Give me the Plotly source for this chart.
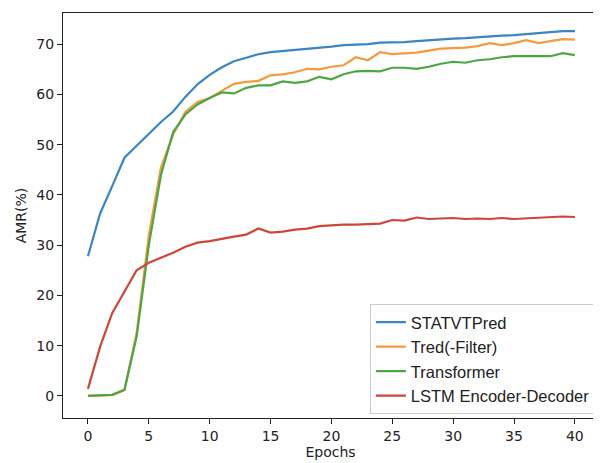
import plotly.graph_objects as go

epochs = list(range(41))

statvtpred = [27.8, 36.3, 41.8, 47.4, 49.8, 52.2, 54.5, 56.6, 59.5, 62.0,
              63.9, 65.4, 66.6, 67.3, 68.0, 68.4, 68.6, 68.9, 69.1, 69.3,
              69.5, 69.8, 69.9, 70.0, 70.3, 70.3, 70.4, 70.6, 70.8, 71.0,
              71.1, 71.2, 71.4, 71.6, 71.7, 71.8, 72.0, 72.2, 72.4, 72.6, 72.6]

tred_filter = [0.0, 0.05, 0.2, 1.2, 12.5, 32.0, 45.5, 52.0, 56.5, 58.5,
               59.3, 60.7, 62.1, 62.5, 62.7, 63.8, 64.0, 64.4, 65.1, 65.0,
               65.5, 65.8, 67.4, 66.8, 68.4, 68.0, 68.1, 68.3, 68.7, 69.1,
               69.2, 69.3, 69.6, 70.2, 69.8, 70.2, 70.8, 70.2, 70.6, 71.0, 70.9]

transformer = [0.0, 0.05, 0.2, 1.2, 11.8, 30.0, 44.0, 52.5, 56.0, 58.0,
               59.3, 60.4, 60.2, 61.3, 61.8, 61.8, 62.6, 62.3, 62.6, 63.5,
               63.0, 64.0, 64.6, 64.7, 64.6, 65.3, 65.3, 65.1, 65.5, 66.1,
               66.5, 66.3, 66.8, 67.0, 67.4, 67.6, 67.6, 67.5, 67.6, 68.2, 67.8]

lstm = [1.4, 9.8, 16.5, 20.8, 25.0, 26.5, 27.5, 28.5, 29.7, 30.5,
        30.8, 31.3, 31.7, 32.1, 33.3, 32.5, 32.7, 33.1, 33.3, 33.8,
        34.0, 34.1, 34.1, 34.2, 34.3, 35.0, 34.9, 35.5, 35.2, 35.3,
        35.4, 35.2, 35.3, 35.2, 35.4, 35.2, 35.3, 35.4, 35.5, 35.7, 35.6]

series_names = ["STATVTPred", "Tred(-Filter)", "Transformer", "LSTM Encoder-Decoder"]
series_values = [statvtpred, tred_filter, transformer, lstm]
colors = ["#3a85c2", "#f59b3e", "#4ca743", "#d0453a"]

x_ticks = [0, 5, 10, 15, 20, 25, 30, 35, 40]
y_ticks = [0, 10, 20, 30, 40, 50, 60, 70]

fig = go.Figure()
for name, vals, c in zip(series_names, series_values, colors):
    fig.add_trace(go.Scatter(x=epochs, y=vals, mode="lines", name=name,
                             line=dict(color=c, width=2.2)))

font_family = "DejaVu Sans"
axis_common = dict(showline=True, linecolor="#222222", linewidth=1.2, mirror=True,
                   ticks="outside", ticklen=5, tickwidth=1.1, tickcolor="#222222",
                   showgrid=False, zeroline=False,
                   tickfont=dict(family=font_family, size=14, color="#222222"))

fig.update_layout(
    width=593, height=455,
    margin=dict(l=55, r=3, t=5, b=45),
    paper_bgcolor="white", plot_bgcolor="white",
    font=dict(family=font_family, color="#222222"),
    xaxis=dict(range=[-2.05, 41.9], tickvals=x_ticks,
               title=dict(text="Epochs", font=dict(size=14), standoff=4),
               **axis_common),
    yaxis=dict(range=[-4.4, 76.2], tickvals=y_ticks,
               title=dict(text="AMR(%)", font=dict(size=14), standoff=6),
               **axis_common),
    legend=dict(x=0.996, y=0.01, xanchor="right", yanchor="bottom",
                bgcolor="white", bordercolor="#cccccc", borderwidth=1,
                font=dict(family="Liberation Sans", size=16.5, color="#222222"),
                tracegroupgap=0, itemwidth=30),
    showlegend=True,
)

fig.write_html("out.html")
